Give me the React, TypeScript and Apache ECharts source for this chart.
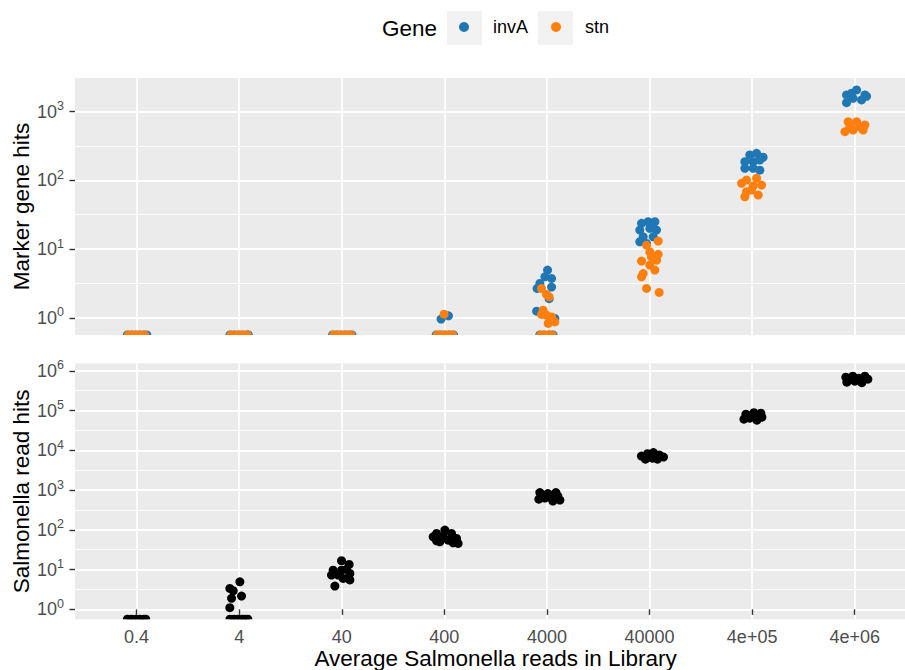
import React, { useEffect, useRef } from 'react';
import * as echarts from 'echarts';

// Category labels (x axis)
const CATEGORIES = ['0.4', '4', '40', '400', '4000', '40000', '4e+05', '4e+06'];

// Each point: [jittered category position (1 = first category), hits]; 0 = no hits
const INVA_HITS: [number, number][] = [
  [0.91, 0], [0.95, 0], [0.99, 0], [1.03, 0], [1.07, 0], [1.1, 0],
  [1.91, 0], [1.95, 0], [1.99, 0], [2.03, 0], [2.07, 0], [2.09, 0],
  [2.91, 0], [2.95, 0], [2.99, 0], [3.03, 0], [3.07, 0], [3.1, 0],
  [3.92, 0], [3.96, 0], [4.0, 0], [4.05, 0], [4.09, 0], [3.968, 0.96], [4.04, 1.07],
  [4.93, 0], [4.97, 0], [5.02, 0], [5.06, 0],
  [5.006, 4.95], [5.045, 3.75], [4.98, 3.95], [4.931, 3.17], [4.904, 2.68], [5.045, 2.8],
  [5.021, 1.9], [4.899, 1.25], [5.077, 0.98],
  [5.922, 23.7], [5.986, 25], [6.052, 25], [5.905, 18.9], [6.003, 20], [6.068, 18.9],
  [5.938, 15.1], [6.035, 15.1], [5.905, 12.8], [5.971, 12.1], [6.019, 22.4],
  [6.977, 234], [7.043, 248], [7.107, 217], [6.929, 187], [7.01, 187], [7.075, 198],
  [6.929, 150], [7.01, 150], [7.075, 141],
  [7.92, 1750], [8.018, 2070], [8.099, 1750], [7.92, 1352], [7.984, 1566], [8.066, 1480],
  [8.115, 1670], [7.969, 1855],
];

const STN_HITS: [number, number][] = [
  [0.92, 0], [0.96, 0], [1.0, 0], [1.04, 0], [1.08, 0],
  [1.92, 0], [1.96, 0], [2.0, 0], [2.04, 0], [2.08, 0],
  [2.92, 0], [2.96, 0], [3.0, 0], [3.04, 0], [3.09, 0],
  [3.93, 0], [3.97, 0], [4.01, 0], [4.05, 0], [4.08, 0], [3.997, 1.13],
  [4.94, 0], [4.98, 0], [5.02, 0], [5.05, 0],
  [4.947, 2.68], [4.996, 2.19], [5.021, 2.02], [4.963, 1.29], [4.996, 1.09], [5.045, 1.03],
  [5.077, 0.87], [5.012, 0.83], [4.947, 1.12],
  [6.084, 13.1], [5.971, 11.4], [6.003, 9.1], [6.084, 8.4], [6.068, 6.9], [5.922, 6.7],
  [6.003, 5.85], [6.052, 4.95], [5.938, 4.4], [5.922, 3.95], [5.971, 2.68], [6.094, 2.34], [6.019, 7.7],
  [6.945, 101], [7.043, 107], [6.897, 90.6], [7.01, 82.8], [7.092, 85.5], [6.945, 68.4],
  [7.059, 61.2], [6.929, 57.8], [6.994, 72.4],
  [7.936, 715], [8.018, 715], [8.099, 640], [7.904, 512], [7.984, 541], [8.082, 541],
  [8.05, 603], [7.952, 603],
];

const READ_HITS: [number, number][] = [
  [0.91, 0], [0.95, 0], [0.99, 0], [1.03, 0], [1.07, 0], [1.09, 0],
  [1.91, 0], [1.95, 0], [1.99, 0], [2.03, 0], [2.06, 0], [2.085, 0],
  [2.007, 4.94], [1.909, 3.37], [1.942, 2.94], [2.023, 2.16], [1.926, 1.89], [1.909, 1.1],
  [2.998, 16.7], [3.072, 13.5], [2.916, 9.7], [2.998, 9.7], [3.079, 8.0], [2.9, 7.3],
  [3.014, 6.0], [3.079, 5.5], [2.933, 3.86], [2.965, 7.3], [3.047, 10.1],
  [4.005, 98.6], [3.924, 81.5], [4.07, 81.5], [3.891, 67], [3.988, 67], [4.119, 61],
  [3.956, 50], [4.086, 47.3], [4.037, 55], [3.924, 53], [4.134, 45.7],
  [4.931, 865], [5.009, 816], [5.087, 865], [4.921, 593], [4.98, 630], [5.048, 611],
  [5.106, 706], [4.96, 748], [5.058, 529], [5.126, 560],
  [5.921, 7160], [5.98, 8270], [6.038, 8770], [6.097, 7590], [6.136, 6760], [5.96, 6010],
  [6.028, 6370], [6.077, 6010], [5.999, 7160],
  [6.939, 81400], [7.017, 88800], [7.085, 86300], [6.92, 61000], [6.977, 64600],
  [7.046, 57500], [7.095, 68400], [6.997, 76900],
  [7.913, 693000], [7.981, 735000], [8.04, 655000], [8.099, 735000], [7.923, 519000],
  [8.001, 550000], [8.069, 505000], [7.952, 617000], [8.128, 617000],
];

// Axis tick exponents (powers of ten)
const TOP_Y_MAJOR = [0, 1, 2, 3];
const TOP_Y_MINOR = [0.5, 1.5, 2.5];
const BOTTOM_Y_MAJOR = [0, 1, 2, 3, 4, 5, 6];
const BOTTOM_Y_MINOR = [0.5, 1.5, 2.5, 3.5, 4.5, 5.5];
const X_TICKS = [1, 2, 3, 4, 5, 6, 7, 8];

const FONT = "'Liberation Sans', Arial, Helvetica, sans-serif";
const BLUE = '#1f77b4';
const ORANGE = '#ff7f0e';
const PT = 9;
const HALF = 'path://M0,10 A10,10 0 0 1 20,10 Z';

function toPoints(arr: [number, number][], yMin: number) {
  return arr.map(([x, v]) =>
    v > 0
      ? [x, Math.log10(v)]
      : { value: [x, yMin], symbol: HALF, symbolSize: [PT, PT / 2], symbolOffset: [0, -PT / 4] }
  );
}

const TOP_MIN = -0.25, TOP_MAX = 3.49;
const BOT_MIN = -0.25, BOT_MAX = 6.19;

export default function App() {
  const ref = useRef<HTMLDivElement>(null);
  useEffect(() => {
    document.body.style.margin = '0';
    const chart = echarts.init(ref.current!, undefined, { renderer: 'svg' });
    const majorLine = { show: true, lineStyle: { color: '#ffffff', width: 1.8 } };
    const minorLine = { show: true, lineStyle: { color: '#ffffff', width: 0.9 } };
    const yLabel = {
      customValues: [] as number[],
      margin: 11,
      formatter: (v: number) => `{b|10}{s|${Math.round(v)}}`,
      rich: {
        b: { fontSize: 18, lineHeight: 24, color: '#4d4d4d', fontFamily: FONT },
        s: { fontSize: 12.5, lineHeight: 12, verticalAlign: 'top', color: '#4d4d4d', fontFamily: FONT },
      },
    };
    const tickStyle = { length: 5.5, lineStyle: { color: '#333333', width: 1.4 } };
    const nameStyle = { fontSize: 22.5, color: '#000000', fontFamily: FONT };

    const mkX = (gridIndex: number, showLabels: boolean) => ({
      type: 'value', gridIndex, min: 0.4, max: 8.6,
      axisLine: { show: false },
      axisTick: { show: showLabels, customValues: X_TICKS, ...tickStyle },
      axisLabel: {
        show: showLabels, customValues: X_TICKS, margin: 9,
        fontSize: 18, color: '#4d4d4d', fontFamily: FONT,
        formatter: (v: number) => CATEGORIES[Math.round(v) - 1] ?? '',
      },
      splitLine: majorLine,
      name: showLabels ? 'Average Salmonella reads in Library' : '',
      nameLocation: 'middle', nameGap: 28, nameMoveOverlap: false, nameTextStyle: nameStyle,
    });

    const mkYMajor = (gridIndex: number, min: number, max: number, ticks: number[], name: string) => ({
      type: 'value', gridIndex, min, max, position: 'left',
      axisLine: { show: false },
      axisTick: { show: true, customValues: ticks, ...tickStyle },
      axisLabel: { ...yLabel, customValues: ticks },
      splitLine: majorLine,
      name, nameLocation: 'middle', nameGap: 42, nameMoveOverlap: false, nameTextStyle: nameStyle,
    });
    const mkYMinor = (gridIndex: number, min: number, max: number, ticks: number[]) => ({
      type: 'value', gridIndex, min, max, position: 'left',
      axisLine: { show: false },
      axisTick: { show: false, customValues: ticks },
      axisLabel: { show: false, customValues: ticks },
      splitLine: minorLine,
    });

    chart.setOption({
      animation: false,
      backgroundColor: '#ffffff',
      textStyle: { fontFamily: FONT },
      grid: [
        { left: 75, top: 78, width: 841.3, height: 257, show: true, backgroundColor: '#ebebeb', borderWidth: 0, outerBoundsMode: 'none', containLabel: false },
        { left: 75, top: 363.3, width: 841.3, height: 256, show: true, backgroundColor: '#ebebeb', borderWidth: 0, outerBoundsMode: 'none', containLabel: false },
      ],
      xAxis: [mkX(0, false), mkX(1, true)],
      yAxis: [
        mkYMajor(0, TOP_MIN, TOP_MAX, TOP_Y_MAJOR, 'Marker gene hits'),
        mkYMinor(0, TOP_MIN, TOP_MAX, TOP_Y_MINOR),
        mkYMajor(1, BOT_MIN, BOT_MAX, BOTTOM_Y_MAJOR, 'Salmonella read hits'),
        mkYMinor(1, BOT_MIN, BOT_MAX, BOTTOM_Y_MINOR),
      ],
      legend: {
        left: 459, top: 18, padding: 0, orient: 'horizontal',
        itemWidth: 10, itemHeight: 10, itemGap: 23, icon: 'circle',
        formatter: (name: string) => `{pad|}{t|${name}}`,
        textStyle: {
          fontSize: 18, color: '#000000', fontFamily: FONT,
          rich: {
            pad: { width: 19, fontSize: 18 },
            t: { fontSize: 18, color: '#000000', fontFamily: FONT },
          },
        },
        data: ['invA', 'stn'],
      },
      graphic: [
        { type: 'rect', shape: { x: 447, y: 11, width: 35, height: 34 }, style: { fill: '#f2f2f2' } },
        { type: 'rect', shape: { x: 538, y: 11, width: 35, height: 34 }, style: { fill: '#f2f2f2' } },
        {
          type: 'text', x: 382, y: 28,
          style: { text: 'Gene', fontSize: 22.5, fill: '#000000', fontFamily: FONT, verticalAlign: 'middle', align: 'left' },
        },
      ],
      series: [
        {
          name: 'invA', type: 'scatter', xAxisIndex: 0, yAxisIndex: 0, symbolSize: PT,
          itemStyle: { color: BLUE, opacity: 1 }, data: toPoints(INVA_HITS, TOP_MIN),
        },
        {
          name: 'stn', type: 'scatter', xAxisIndex: 0, yAxisIndex: 0, symbolSize: PT,
          itemStyle: { color: ORANGE, opacity: 1 }, data: toPoints(STN_HITS, TOP_MIN),
        },
        {
          name: 'reads', type: 'scatter', xAxisIndex: 1, yAxisIndex: 2, symbolSize: PT,
          itemStyle: { color: '#000000', opacity: 1 }, data: toPoints(READ_HITS, BOT_MIN),
        },
      ],
    });
    return () => chart.dispose();
  }, []);
  return <div ref={ref} style={{ width: 905, height: 670, overflow: 'hidden' }} />;
}
